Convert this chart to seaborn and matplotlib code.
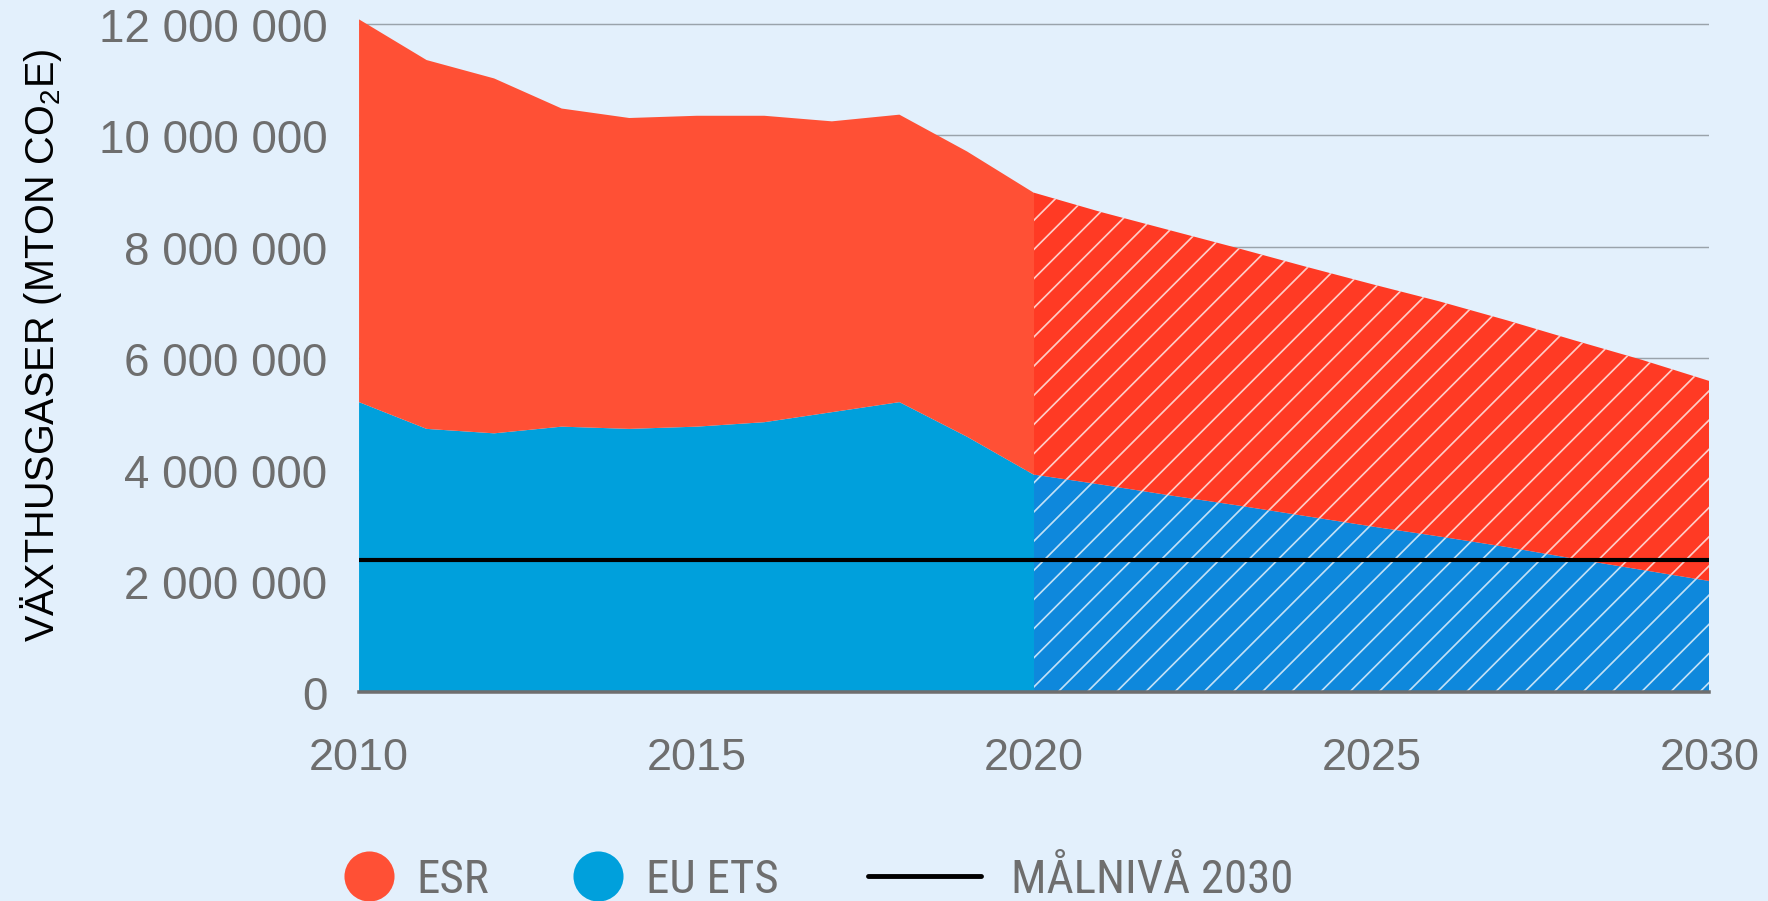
import matplotlib
matplotlib.use("Agg")
import matplotlib.pyplot as plt
from matplotlib.lines import Line2D
from matplotlib.font_manager import FontProperties
import seaborn as sns

# historical data 2010-2020
hist_years = [2010, 2011, 2012, 2013, 2014, 2015, 2016, 2017, 2018, 2019, 2020]
hist_ets = [5220000, 4740000, 4660000, 4780000, 4740000, 4780000, 4860000, 5040000, 5220000, 4600000, 3910000]
hist_esr = [6870000, 6620000, 6370000, 5710000, 5580000, 5580000, 5500000, 5220000, 5160000, 5120000, 5060000]

# projection 2020-2030
proj_years = [2020, 2021, 2022, 2023, 2024, 2025, 2026, 2027, 2028, 2029, 2030]
proj_ets = [3910000, 3730000, 3540000, 3360000, 3170000, 2980000, 2800000, 2610000, 2400000, 2200000, 2000000]
proj_esr = [5060000, 4890000, 4760000, 4620000, 4480000, 4350000, 4220000, 4070000, 3920000, 3770000, 3590000]

target_level = 2380000
all_years = list(range(2010, 2031))
target = [target_level] * len(all_years)

y_ticks = [0, 2000000, 4000000, 6000000, 8000000, 10000000, 12000000]

BG = "#E3F0FC"
RED = "#FF5035"
RED_P = "#FF3A24"
BLUE = "#00A0DC"
BLUE_P = "#0E88DC"
GRAY = "#6E6E6E"

sns.set_style("white", {"axes.facecolor": BG, "figure.facecolor": BG})
plt.rcParams["font.family"] = ["Liberation Sans", "DejaVu Sans"]
plt.rcParams["mathtext.fontset"] = "custom"
plt.rcParams["mathtext.rm"] = "Liberation Sans"
plt.rcParams["hatch.linewidth"] = 0.7

DPI = 175
fig = plt.figure(figsize=(1768 / DPI, 902 / DPI), dpi=DPI, facecolor=BG)
ax = fig.add_axes([0.2028, 0.2312, 0.7641, 0.7659])
ax.set_facecolor(BG)

hist_total = [a + b for a, b in zip(hist_ets, hist_esr)]
proj_total = [a + b for a, b in zip(proj_ets, proj_esr)]

ax.fill_between(hist_years, 0, hist_ets, color=BLUE, lw=0, zorder=2)
ax.fill_between(hist_years, hist_ets, hist_total, color=RED, lw=0, zorder=2)
ax.fill_between(proj_years, 0, proj_ets, facecolor=BLUE_P, edgecolor=(1, 1, 1, 0.75),
                hatch="//", lw=0, zorder=2)
ax.fill_between(proj_years, proj_ets, proj_total, facecolor=RED_P, edgecolor=(1, 1, 1, 0.75),
                hatch="//", lw=0, zorder=2)

sns.lineplot(x=all_years, y=target, color="black", lw=1.7, ax=ax, zorder=3)

ax.set_xlim(2010, 2030)
ax.set_ylim(0, 12400000)
ax.set_xticks(all_years)
ax.set_xticklabels([str(y) if y % 5 == 0 else "" for y in all_years])
ax.set_yticks(y_ticks)
ax.set_yticklabels([f"{v:,}".replace(",", " ") for v in y_ticks])
ax.tick_params(axis="x", length=8.2, width=1.2, color=GRAY, pad=10, labelsize=18.5, labelcolor=GRAY)
ax.tick_params(axis="y", length=0, pad=12.8, labelsize=18.8, labelcolor=GRAY)

sns.despine(ax=ax, left=True)
ax.spines["bottom"].set_color(GRAY)
ax.spines["bottom"].set_linewidth(1.45)
ax.spines["bottom"].set_zorder(4)

ax.set_axisbelow(True)
ax.yaxis.grid(True, color="#9AA3AB", lw=0.6)
ax.xaxis.grid(False)

ax.set_xlabel("")
ax.set_ylabel("VÄXTHUSGASER (MTON CO$_\\mathregular{2}$E)", fontsize=16.3, color="black")
ax.yaxis.label.set_va("center")
ax.yaxis.set_label_coords(-0.2353, 0.5045)

leg_font = FontProperties(family=["Roboto Condensed", "Liberation Sans"], size=19.3)
h1 = [Line2D([], [], marker="o", ls="", markersize=20.6, color=RED, markeredgewidth=0),
      Line2D([], [], marker="o", ls="", markersize=20.6, color=BLUE, markeredgewidth=0)]
fig.legend(handles=h1, labels=["ESR", "EU ETS"], loc="center left",
           bbox_to_anchor=(344 / 1768, 0.0244), ncol=2, frameon=False,
           handlelength=1.06, handletextpad=0.48, columnspacing=1.8,
           borderpad=0, borderaxespad=0, prop=leg_font, labelcolor=GRAY)
fig.legend(handles=[Line2D([], [], color="black", lw=2)], labels=["MÅLNIVÅ 2030"],
           loc="center left", bbox_to_anchor=(868 / 1768, 0.0244), frameon=False,
           handlelength=2.4, handletextpad=0.64, borderpad=0, borderaxespad=0,
           prop=leg_font, labelcolor=GRAY)

fig.savefig("out.png", dpi=DPI, facecolor=BG)
